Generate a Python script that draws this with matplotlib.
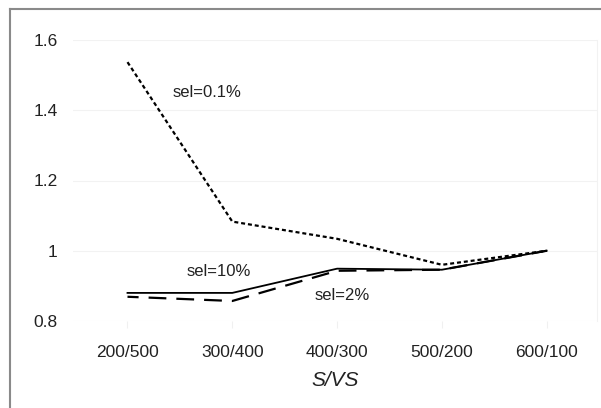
import matplotlib
matplotlib.use("Agg")
import matplotlib.pyplot as plt
from matplotlib.lines import Line2D

categories = ["200/500", "300/400", "400/300", "500/200", "600/100"]
sel_01 = [1.537, 1.083, 1.034, 0.960, 1.000]
sel_10 = [0.880, 0.880, 0.949, 0.946, 1.000]
sel_2 = [0.869, 0.857, 0.943, 0.946, 1.000]
yticks = [0.8, 1.0, 1.2, 1.4, 1.6]
ytick_labels = ["0.8", "1", "1.2", "1.4", "1.6"]

plt.rcParams['font.family'] = ['Liberation Sans', 'DejaVu Sans']

W, H = 601, 408
fig = plt.figure(figsize=(W / 100, H / 100), dpi=100)
# partial frame: left and top edges only
fig.lines.append(Line2D([10 / W, 10 / W], [0, 1 - 8.5 / H], transform=fig.transFigure,
                        color="#8a8a8a", linewidth=1.5))
fig.lines.append(Line2D([10 / W, 1.0], [1 - 8.5 / H, 1 - 8.5 / H], transform=fig.transFigure,
                        color="#8a8a8a", linewidth=1.5))

ax = fig.add_axes([73 / W, 1 - 321 / H, (597 - 73) / W, (321 - 40) / H])
x = list(range(len(categories)))

ax.plot(x, sel_01, color="black", linewidth=1.6, linestyle=(0, (1.8, 1.3)))
ax.plot(x, sel_10, color="black", linewidth=1.3, linestyle="-")
ax.plot(x, sel_2, color="black", linewidth=1.6, linestyle=(3, (8, 4.5)))

ax.set_xlim(-0.52, 4.48)
ax.set_ylim(0.8, 1.6)
ax.set_xticks(x)
ax.set_xticklabels(categories, fontsize=12.5, color="#222222")
ax.set_yticks(yticks)
ax.set_yticklabels(ytick_labels, fontsize=12.5, color="#222222")
ax.tick_params(axis="y", length=0, pad=11)
ax.tick_params(axis="x", length=5, color="#f0f0f0", pad=12.5, direction="out")

for s in ax.spines.values():
    s.set_visible(False)
ax.spines["right"].set_visible(True)
ax.spines["right"].set_color("#f2f2f2")
ax.spines["right"].set_linewidth(0.8)
ax.grid(axis="y", color="#f2f2f2", linewidth=0.8)
ax.set_axisbelow(True)

ax.set_xlabel("S/VS", fontsize=15, style="italic", color="#222222", labelpad=8)

ax.text(0.76, 1.45, "sel=0.1%", fontsize=12, ha="center", va="center", color="#222222")
ax.text(0.87, 0.94, "sel=10%", fontsize=12, ha="center", va="center", color="#222222")
ax.text(2.05, 0.874, "sel=2%", fontsize=12, ha="center", va="center", color="#222222")

fig.savefig("out.png", dpi=100)
